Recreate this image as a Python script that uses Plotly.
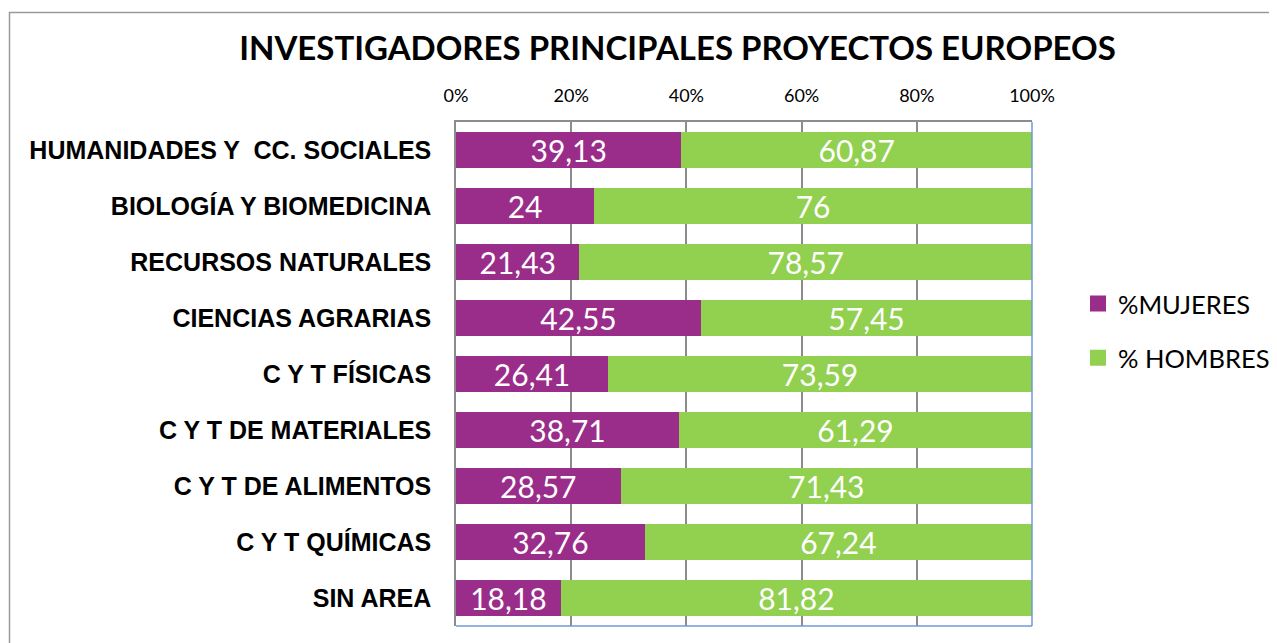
import plotly.graph_objects as go

categories = [
    "HUMANIDADES Y  CC. SOCIALES",
    "BIOLOGÍA Y BIOMEDICINA",
    "RECURSOS NATURALES",
    "CIENCIAS AGRARIAS",
    "C Y T FÍSICAS",
    "C Y T DE MATERIALES",
    "C Y T DE ALIMENTOS",
    "C Y T QUÍMICAS",
    "SIN AREA",
]
mujeres = [39.13, 24, 21.43, 42.55, 26.41, 38.71, 28.57, 32.76, 18.18]
hombres = [60.87, 76, 78.57, 57.45, 73.59, 61.29, 71.43, 67.24, 81.82]
series_names = ["%MUJERES", "% HOMBRES"]
tick_vals = [0, 20, 40, 60, 80, 100]
tick_text = ["0%", "20%", "40%", "60%", "80%", "100%"]

PURPLE = "#9A2D8A"
GREEN = "#92D050"
FONT = "Lato"

# page body has an 8px margin; work in screen pixels and convert
OFF = 8
W, H = 1277 - OFF, 643 - OFF
PL, PR, PT, PB = 456, 1032, 122, 626  # plot area in screen pixels
L, T = PL - OFF, PT - OFF
R, B = W - (PR - OFF), H - (PB - OFF)
pw, ph = PR - PL, PB - PT


def sx(px):
    return (px - PL) / pw


def sy(py):
    return (PB - py) / ph


def fmt(v):
    return f"{v:g}".replace(".", ",")


fig = go.Figure()
for name, vals, col in [(series_names[0], mujeres, PURPLE), (series_names[1], hombres, GREEN)]:
    fig.add_trace(go.Bar(
        y=categories, x=vals, orientation="h", name=name,
        marker=dict(color=col, line=dict(width=0)),
        text=[fmt(v) for v in vals],
        textposition="inside", insidetextanchor="middle",
        constraintext="none", textangle=0,
        textfont=dict(family=FONT, size=30, color="white"),
        showlegend=False, hoverinfo="x+y",
    ))
    fig.add_trace(go.Scatter(
        x=[None], y=[None], mode="markers", name=name,
        marker=dict(symbol="square", size=16, color=col),
        legendgroup=name, showlegend=True,
    ))

fig.update_layout(
    width=W, height=H,
    margin=dict(l=L, r=R, t=T, b=B, autoexpand=False),
    paper_bgcolor="white", plot_bgcolor="white",
    barmode="stack", bargap=0.34,
    title=dict(
        text="<b>INVESTIGADORES PRINCIPALES PROYECTOS EUROPEOS</b>",
        font=dict(family=FONT, size=33, color="black"),
        x=(677.5 - OFF) / W, xanchor="center", xref="container",
        y=1 - (48 - OFF) / H, yanchor="middle", yref="container",
    ),
    xaxis=dict(
        side="top", range=[0, 100], tickvals=tick_vals, ticktext=tick_text,
        showgrid=True, gridcolor="#8C8C8C", gridwidth=1.5,
        showline=True, linecolor="#8C8C8C", linewidth=1.5,
        ticks="", ticklabelstandoff=11,
        tickfont=dict(family=FONT, size=18, color="black"),
        zeroline=False, fixedrange=True,
    ),
    yaxis=dict(
        autorange="reversed", showgrid=False,
        showline=True, linecolor="#8C8C8C", linewidth=1.5,
        ticks="", ticklabelstandoff=18,
        tickfont=dict(family="Liberation Sans", size=25, color="black", weight="bold"),
        fixedrange=True,
    ),
    legend=dict(
        x=sx(1078), xanchor="left",
        y=sy(331), yanchor="middle",
        font=dict(family=FONT, size=25.5, color="black"),
        traceorder="grouped", tracegroupgap=18,
        bgcolor="rgba(0,0,0,0)", itemsizing="trace",
    ),
    shapes=[
        dict(type="rect", xref="paper", yref="paper",
             x0=sx(9.5), x1=sx(1300),
             y0=sy(700), y1=sy(12.5),
             line=dict(color="#9A9A9A", width=1.5), fillcolor="rgba(0,0,0,0)", layer="below"),
        dict(type="line", xref="paper", yref="paper", x0=1, x1=1, y0=0, y1=1,
             line=dict(color="#6C9BD6", width=1.5)),
        dict(type="line", xref="paper", yref="paper", x0=0, x1=1, y0=0, y1=0,
             line=dict(color="#6C9BD6", width=1.5)),
    ],
)

fig.write_html("out.html")
